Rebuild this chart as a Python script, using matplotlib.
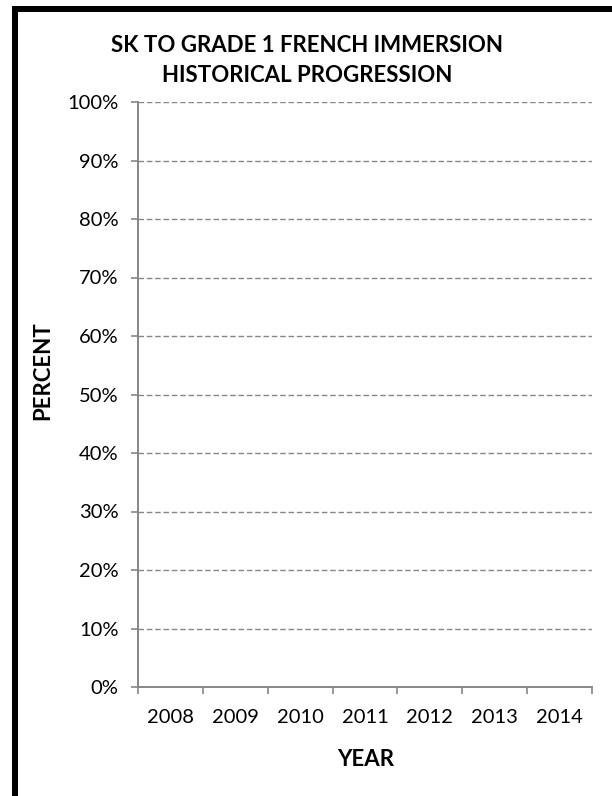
import matplotlib
matplotlib.use('Agg')
import matplotlib.pyplot as plt
from matplotlib.patches import Rectangle
from matplotlib.ticker import PercentFormatter, FixedLocator

plt.rcParams['font.family'] = ['Lato', 'DejaVu Sans']

# chart content (the reference chart has no plotted series)
years = ['2008', '2009', '2010', '2011', '2012', '2013', '2014']
pct_ticks = [0.0, 0.1, 0.2, 0.3, 0.4, 0.5, 0.6, 0.7, 0.8, 0.9, 1.0]
immersion_pct = []
title_lines = ['SK TO GRADE 1 FRENCH IMMERSION', 'HISTORICAL PROGRESSION']

W, H = 612, 796
fig = plt.figure(figsize=(W / 100, H / 100), dpi=100)
ax = fig.add_axes([138 / W, 1 - 687 / H, (592 - 138) / W, (687 - 102) / H])

grey = '#868686'
ax.plot(range(len(immersion_pct)), immersion_pct)

ax.set_xlim(-0.5, len(years) - 0.5)
ax.set_ylim(0, 1)

# boundary ticks between categories, labels centered on categories
ax.xaxis.set_major_locator(FixedLocator([i - 0.5 for i in range(len(years) + 1)]))
ax.xaxis.set_minor_locator(FixedLocator(range(len(years))))
ax.set_xticklabels([], minor=False)
ax.set_xticklabels(years, minor=True)
ax.tick_params(axis='x', which='major', length=5, width=1.2, color=grey, direction='out')
ax.tick_params(axis='x', which='minor', length=0, pad=16, labelsize=14.5)

ax.set_yticks(pct_ticks)
ax.yaxis.set_major_formatter(PercentFormatter(1.0, decimals=0))
ax.tick_params(axis='y', length=5, width=1.2, color=grey, pad=9, labelsize=14.5)

ax.grid(axis='y', color=grey, linestyle=(0, (4, 2)), linewidth=1)
ax.set_axisbelow(True)
for s in ['top', 'right']:
    ax.spines[s].set_visible(False)
for s in ['left', 'bottom']:
    ax.spines[s].set_color(grey)
    ax.spines[s].set_linewidth(1.4)
    ax.spines[s].set_zorder(3)

fig.text(307 / W, 1 - 45 / H, title_lines[0], ha='center', va='center',
         fontsize=16, fontweight='bold')
fig.text(307 / W, 1 - 75 / H, title_lines[1], ha='center', va='center',
         fontsize=16, fontweight='bold')
fig.text(43 / W, 1 - 371 / H, 'PERCENT', rotation=90, ha='center', va='center',
         fontsize=16, fontweight='bold')
fig.text(366 / W, 1 - 759 / H, 'YEAR', ha='center', va='center',
         fontsize=16, fontweight='bold')

# black frame on left and top edges
fig.patches.append(Rectangle((15 / W, -0.2), 2, 1 - 9 / H + 0.2,
                             transform=fig.transFigure, fill=False,
                             edgecolor='black', linewidth=6 * 0.72))

fig.savefig('out.png', dpi=100, facecolor='white')
